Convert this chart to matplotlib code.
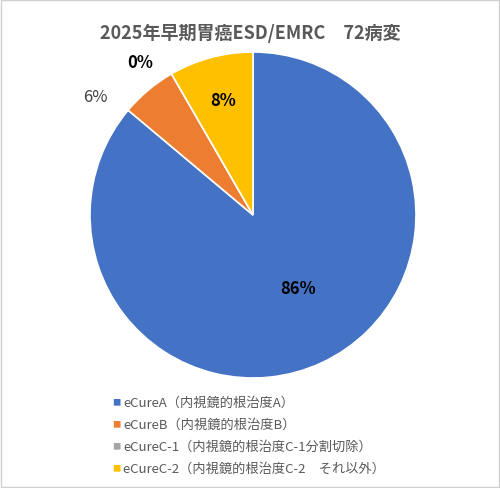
import matplotlib
matplotlib.use("Agg")
import matplotlib.pyplot as plt
from matplotlib.patches import Rectangle

plt.rcParams['font.family'] = ['Noto Sans CJK JP', 'DejaVu Sans']

categories = ["eCureA（内視鏡的根治度A）", "eCureB（内視鏡的根治度B）",
              "eCureC-1（内視鏡的根治度C-1分割切除）", "eCureC-2（内視鏡的根治度C-2　それ以外）"]
values = [62, 4, 0, 6]
labels = ["86%", "6%", "0%", "8%"]
colors = ["#4472C4", "#ED7D31", "#A5A5A5", "#FFC000"]

fig = plt.figure(figsize=(5.0, 4.89), dpi=100)
fig.patches.append(Rectangle((0.002, 0.002), 0.996, 0.996, transform=fig.transFigure,
                             fill=False, edgecolor="#D0D0D0", lw=1))
ax = fig.add_axes([(253-163)/500, 1-(216+163)/489, 326/500, 326/489])
wedges, _ = ax.pie(values, colors=colors, startangle=90, counterclock=False,
                   wedgeprops=dict(edgecolor="white", linewidth=1.2))
ax.set_aspect('equal')
ax.set_xlim(-1, 1); ax.set_ylim(-1, 1)

fig.text(0.5, 1-33/489, "2025年早期胃癌ESD/EMRC　72病変", ha="center", va="center",
         fontsize=13, fontweight="bold", color="#595959")
def px(x, y):
    return x/500, 1-y/489
fig.text(*px(298, 289), labels[0], ha="center", va="center", fontsize=12, fontweight="bold")
fig.text(*px(95, 97), labels[1], ha="center", va="center", fontsize=12, color="#404040")
fig.text(*px(140, 63), labels[2], ha="center", va="center", fontsize=12, fontweight="bold")
fig.text(*px(223, 101), labels[3], ha="center", va="center", fontsize=12, fontweight="bold")

ys = [403, 425, 447, 469]
for c, lab, y in zip(colors, categories, ys):
    fig.text(*px(116, y), "■", color=c, fontsize=6, ha="center", va="center")
    fig.text(*px(123, y), lab, fontsize=9.5, ha="left", va="center", color="#595959")

fig.savefig("out.png", dpi=100)
